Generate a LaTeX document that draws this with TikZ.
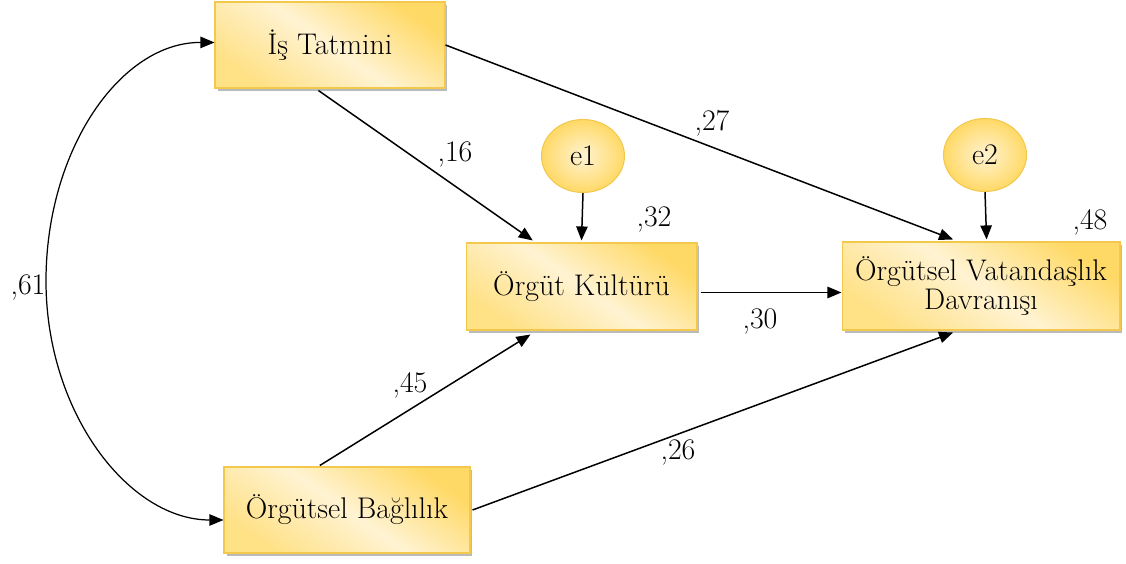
\documentclass[tikz,border=0pt]{standalone}
\usetikzlibrary{arrows.meta,shadows,calc,shapes.geometric}
\definecolor{goldfill}{HTML}{FFD966}
\definecolor{creamfill}{HTML}{FFF3D2}
\definecolor{goldedge}{HTML}{F2C94C}
\begin{document}
\begin{tikzpicture}[x=0.02cm,y=-0.02cm,
  txt/.style={font=\rmfamily\fontsize{17}{13.5}\selectfont},
  varbox/.style={txt, rectangle, draw=goldedge, line width=0.6pt,
    top color=goldfill, bottom color=goldfill!70!creamfill, middle color=creamfill,
    shading angle=-35, align=center, inner sep=0pt,
    drop shadow={shadow xshift=0.05cm, shadow yshift=-0.06cm, fill=black!45, opacity=0.6}},
  errnode/.style={txt, ellipse, draw=goldedge, line width=0.6pt,
    inner color=creamfill, outer color=goldfill,
    minimum width=1.66cm, minimum height=1.46cm, inner sep=0pt},
  pathar/.style={line width=0.85pt, -{Triangle[length=8pt,width=6.5pt]}},
  coef/.style={txt, inner sep=0pt}]
\useasboundingbox (0,0) rectangle (1126,564);

% observed variables
\node[varbox, minimum width=4.6cm, minimum height=1.72cm] (IT) at (330,45) {İş Tatmini};
\node[varbox, minimum width=4.62cm, minimum height=1.74cm] (OK) at (581.5,286.5) {Örgüt Kültürü};
\node[varbox, minimum width=5.56cm, minimum height=1.76cm] (OVD) at (981,286) {Örgütsel Vatandaşlık\\Davranışı};
\node[varbox, minimum width=4.92cm, minimum height=1.72cm] (OB) at (347,510) {Örgütsel Bağlılık};

% error terms
\node[errnode] (e1) at (583,156) {e1};
\node[errnode] (e2) at (985,155) {e2};

% anchor points on the box borders
\coordinate (ITb) at ($(IT.south west)!0.45!(IT.south east)+(0,2)$);
\coordinate (OKt1) at ($(OK.north west)!0.29!(OK.north east)+(0,-2)$);
\coordinate (OKt2) at ($(OK.north west)!0.5!(OK.north east)+(0,-2)$);
\coordinate (OKb) at ($(OK.south west)!0.28!(OK.south east)+(0,4)$);
\coordinate (OVDt1) at ($(OVD.north west)!0.40!(OVD.north east)+(0,-2)$);
\coordinate (OVDt2) at ($(OVD.north west)!0.52!(OVD.north east)+(0,-2)$);
\coordinate (OVDb) at ($(OVD.south west)!0.40!(OVD.south east)+(0,2)$);
\coordinate (OBt) at ($(OB.north west)!0.39!(OB.north east)+(0,-1)$);
\coordinate (covL) at (46,281);

% structural paths
\draw[pathar] (ITb) -- (OKt1);
\draw[pathar] (IT.east) -- (OVDt1);
\draw[pathar] (e1.south) -- (OKt2);
\draw[pathar] (e2.south) -- (OVDt2);
\draw[pathar] ([xshift=0.06cm,yshift=-0.12cm]OK.east) -- ([yshift=-0.12cm]OK.east -| OVD.west);
\draw[pathar] (OBt) -- (OKb);
\draw[pathar] ([xshift=0.04cm]OB.east) -- (OVDb);

% covariance (half-ellipse)
\draw[line width=0.7pt, {Triangle[length=8pt,width=6.5pt]}-{Triangle[length=8pt,width=6.5pt]}]
  ([yshift=0.05cm]IT.west) .. controls (121,42) and (46,149) .. (covL)
  .. controls (46,413) and (129,520) .. ([yshift=-0.2cm]OB.west);

% coefficients
\node[coef] (c16) at (455,155) {,16};
\node[coef] (c27) at (712,123) {,27};
\node[coef] (c32) at (654,220) {,32};
\node[coef] (c48) at (1090,222) {,48};
\node[coef] (c30) at (760,322) {,30};
\node[coef] (c45) at (410,385) {,45};
\node[coef] (c26) at (678,453) {,26};
\node[coef] (c61) at (28,288) {,61};
\end{tikzpicture}
\end{document}
